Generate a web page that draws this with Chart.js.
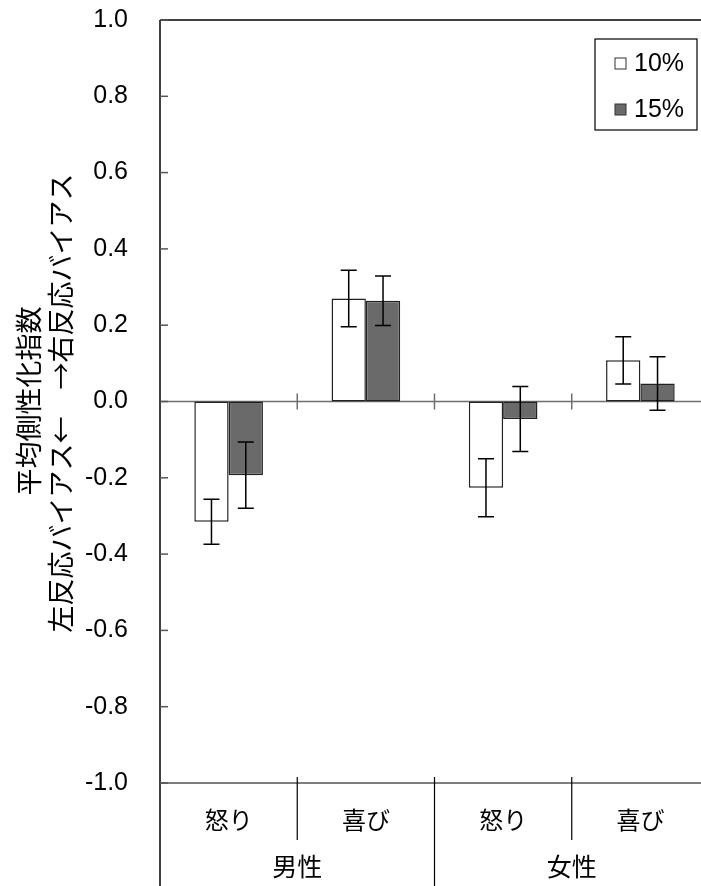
<!DOCTYPE html>
<html><head><meta charset="utf-8">
<script src="https://cdn.jsdelivr.net/npm/chart.js@4/dist/chart.umd.min.js"></script>
<style>
html,body{margin:0;padding:0;background:#fff;overflow:hidden;}
#wrap{position:relative;width:709px;height:886px;}
</style></head>
<body>
<div id="wrap"><canvas id="c"></canvas></div>
<script>
const categories = ['怒り','喜び','怒り','喜び'];
const groups = ['男性','女性'];
const seriesNames = ['10%','15%'];
const values10 = [-0.315, 0.27, -0.226, 0.108];
const values15 = [-0.193, 0.264, -0.046, 0.047];
const err10 = [0.059, 0.074, 0.076, 0.062];
const err15 = [0.087, 0.065, 0.085, 0.07];
const yTicks = [-1.0,-0.8,-0.6,-0.4,-0.2,0.0,0.2,0.4,0.6,0.8,1.0];
const yTitle = ['平均側性化指数','左反応バイアス←　→右反応バイアス'];

const LATIN = '"Liberation Sans", Arial, sans-serif';
const CJK = '"Noto Sans CJK JP", sans-serif';

const decor = {
  id:'decor',
  beforeDatasetsDraw(chart){
    const {ctx, chartArea:a, scales:{x,y}} = chart;
    ctx.save();
    const y0 = y.getPixelForValue(0);
    ctx.strokeStyle='#6e6e6e'; ctx.lineWidth=1.5;
    ctx.beginPath(); ctx.moveTo(a.left,y0); ctx.lineTo(a.right,y0); ctx.stroke();
    for(let i=1;i<categories.length;i++){
      const xb = (x.getPixelForValue(i-1)+x.getPixelForValue(i))/2;
      ctx.beginPath(); ctx.moveTo(xb,y0-8); ctx.lineTo(xb,y0+8); ctx.stroke();
    }
    ctx.restore();
  },
  afterDatasetsDraw(chart){
    const {ctx, chartArea:a, scales:{x,y}} = chart;
    ctx.save();
    const errs=[err10,err15];
    chart.data.datasets.forEach((ds,di)=>{
      const meta=chart.getDatasetMeta(di);
      meta.data.forEach((bar,i)=>{
        const v=ds.data[i], e=errs[di][i];
        const yt=y.getPixelForValue(v+e), yb=y.getPixelForValue(v-e);
        ctx.strokeStyle='#000'; ctx.lineWidth=1.5;
        ctx.beginPath();
        ctx.moveTo(bar.x,yt); ctx.lineTo(bar.x,yb);
        ctx.moveTo(bar.x-8,yt); ctx.lineTo(bar.x+8,yt);
        ctx.moveTo(bar.x-8,yb); ctx.lineTo(bar.x+8,yb);
        ctx.stroke();
      });
    });
    ctx.strokeStyle='#000'; ctx.lineWidth=1.5;
    ctx.beginPath(); ctx.moveTo(a.left,a.top); ctx.lineTo(a.left,chart.height); ctx.stroke();
    ctx.beginPath(); ctx.moveTo(a.left,a.top); ctx.lineTo(a.right,a.top); ctx.stroke();
    ctx.strokeStyle='#555';
    ctx.beginPath(); ctx.moveTo(a.left,a.bottom); ctx.lineTo(a.right,a.bottom); ctx.stroke();
    yTicks.forEach(t=>{
      const py=y.getPixelForValue(t);
      ctx.beginPath(); ctx.moveTo(a.left,py); ctx.lineTo(a.left+8,py); ctx.stroke();
    });
    ctx.strokeStyle='#000'; ctx.lineWidth=1.2;
    const perGroup = categories.length/groups.length;
    for(let i=1;i<=categories.length;i++){
      const xb = i<categories.length ? (x.getPixelForValue(i-1)+x.getPixelForValue(i))/2 : a.right;
      const long = (i%perGroup===0);
      ctx.beginPath(); ctx.moveTo(xb,a.bottom-6); ctx.lineTo(xb, long?chart.height:a.bottom+57); ctx.stroke();
    }
    ctx.fillStyle='#000'; ctx.font='25px '+CJK; ctx.textAlign='center'; ctx.textBaseline='middle';
    groups.forEach((g,gi)=>{
      const x1=x.getPixelForValue(gi*perGroup), x2=x.getPixelForValue(gi*perGroup+perGroup-1);
      ctx.fillText(g,(x1+x2)/2,866);
    });
    ctx.font='27px '+CJK;
    ctx.save(); ctx.translate(29,401); ctx.rotate(-Math.PI/2); ctx.fillText(yTitle[0],0,0); ctx.restore();
    ctx.save(); ctx.translate(61,403); ctx.rotate(-Math.PI/2); ctx.fillText(yTitle[1],0,0); ctx.restore();
    const lx=595, ly=39, lw=102, lh=91;
    ctx.fillStyle='#fff'; ctx.fillRect(lx,ly,lw,lh);
    ctx.strokeStyle='#000'; ctx.lineWidth=1.2; ctx.strokeRect(lx,ly,lw,lh);
    const rows=[63,109];
    chart.data.datasets.forEach((ds,di)=>{
      ctx.fillStyle=ds.backgroundColor; ctx.strokeStyle='#333'; ctx.lineWidth=1;
      ctx.fillRect(615,rows[di]-5,11,11); ctx.strokeRect(615,rows[di]-5,11,11);
      ctx.fillStyle='#000'; ctx.font='25px '+LATIN; ctx.textAlign='left'; ctx.textBaseline='middle';
      ctx.fillText(ds.label,634,rows[di]+1);
    });
    ctx.restore();
  }
};

new Chart(document.getElementById('c'),{
  type:'bar',
  data:{
    labels:categories,
    datasets:[
      {label:seriesNames[0],data:values10,backgroundColor:'#ffffff',borderColor:'#222',borderWidth:1.5,borderSkipped:false},
      {label:seriesNames[1],data:values15,backgroundColor:'#6a6a6a',borderColor:'#222',borderWidth:1.5,borderSkipped:false}
    ]
  },
  options:{
    responsive:true, maintainAspectRatio:false, animation:false,
    layout:{padding:{top:20,right:0,left:0,bottom:0}},
    plugins:{legend:{display:false},tooltip:{enabled:false}},
    datasets:{bar:{categoryPercentage:0.5,barPercentage:1.0}},
    scales:{
      x:{
        grid:{display:false,drawTicks:false}, border:{display:false},
        ticks:{font:{family:CJK,size:24},color:'#000',padding:22,maxRotation:0},
        afterFit(s){s.height=103; s.paddingLeft=0; s.paddingRight=0;}
      },
      y:{
        min:-1,max:1,
        grid:{display:false,drawTicks:false}, border:{display:false},
        ticks:{stepSize:0.2,font:{family:LATIN,size:25},color:'#000',padding:32,
          callback:(v)=>(Math.round(v*10)/10).toFixed(1)},
        afterFit(s){s.width=160; s.paddingTop=0; s.paddingBottom=0;}
      }
    }
  },
  plugins:[decor]
});
</script>
</body></html>
